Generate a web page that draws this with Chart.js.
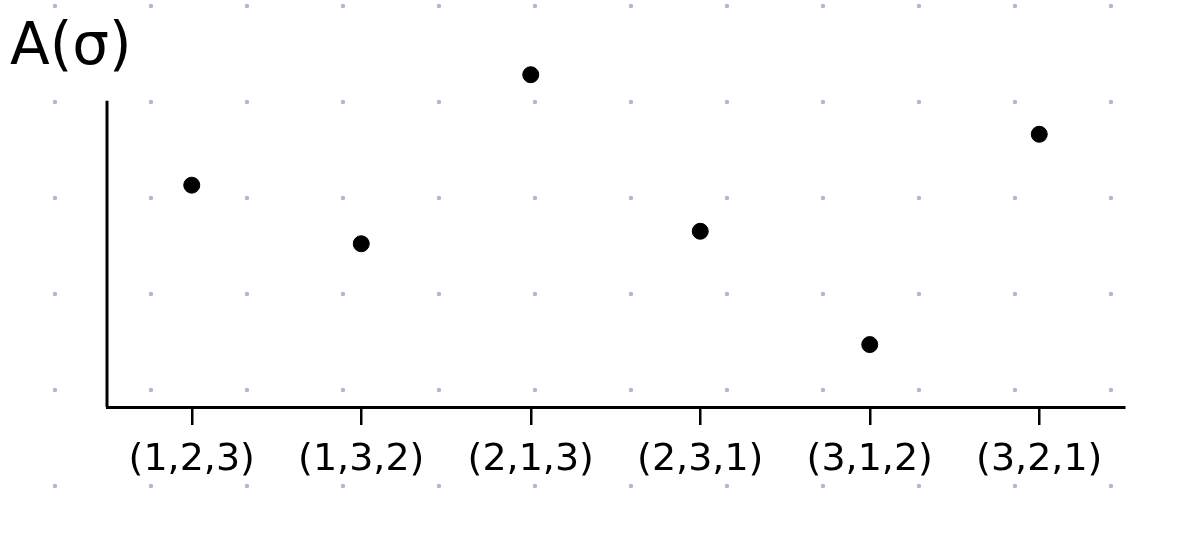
<!DOCTYPE html>
<html>
<head>
<meta charset="utf-8">
<script src="https://cdn.jsdelivr.net/npm/chart.js@4/dist/chart.umd.min.js"></script>
<style>
  html, body { margin: 0; padding: 0; background: #fff; }
  #wrap { width: 1184px; height: 539px; }
</style>
</head>
<body>
<div id="wrap"><canvas id="permChart"></canvas></div>
<script>
/* -------------------------------------------------------
   Data (heights, in grid units)
------------------------------------------------------- */
const permutations = ['(1,2,3)', '(1,3,2)', '(2,1,3)', '(2,3,1)', '(3,1,2)', '(3,2,1)'];
const aValues      = [2.31, 1.70, 3.46, 1.83, 0.65, 2.84];
const yMax         = 3.68;   // top of plotting room
const axisTop      = 3.19;   // where the drawn vertical axis stops

/* -------------------------------------------------------
   Dotted-paper background
------------------------------------------------------- */
const dotPaper = {
  id: 'dotPaper',
  beforeDraw(chart) {
    const { ctx, width, height } = chart;
    ctx.save();
    ctx.fillStyle = '#ffffff';
    ctx.fillRect(0, 0, width, height);
    ctx.fillStyle = '#aab9d6';
    for (let x = 55; x < width; x += 96) {
      for (let y = 6; y < height; y += 96) {
        ctx.beginPath();
        ctx.arc(x, y, 2.2, 0, Math.PI * 2);
        ctx.fill();
      }
    }
    ctx.restore();
  }
};

/* -------------------------------------------------------
   Vertical axis line (stops short of the chart top)
------------------------------------------------------- */
const shortYAxis = {
  id: 'shortYAxis',
  beforeDatasetsDraw(chart) {
    const { ctx, chartArea, scales } = chart;
    const yTop = scales.y.getPixelForValue(axisTop);
    ctx.save();
    ctx.strokeStyle = '#000';
    ctx.lineWidth = 3;
    ctx.beginPath();
    ctx.moveTo(chartArea.left, yTop);
    ctx.lineTo(chartArea.left, chartArea.bottom);
    ctx.stroke();
    ctx.restore();
  }
};

const ctx = document.getElementById('permChart');

new Chart(ctx, {
  type: 'scatter',
  data: {
    labels: permutations,
    datasets: [{
      label: 'A(σ)',
      data: aValues,
      backgroundColor: '#000',
      borderColor: '#000',
      pointRadius: 8,
      pointHoverRadius: 8,
      showLine: false,
    }]
  },
  options: {
    responsive: true,
    maintainAspectRatio: false,
    animation: false,
    layout: { padding: { left: 10, right: 60, top: 0, bottom: 0 } },
    plugins: {
      legend: { display: false },
      tooltip: { enabled: false },
      title: {
        display: true,
        text: 'A(σ)',
        align: 'start',
        color: '#000',
        font: { family: "'DejaVu Sans', sans-serif", size: 58, weight: 'normal', lineHeight: 1.2 },
        padding: { top: 14, bottom: -30 }
      }
    },
    scales: {
      x: {
        type: 'category',
        offset: true,
        border: { display: true, color: '#000', width: 3 },
        grid: { offset: false, drawOnChartArea: false, tickLength: 18, color: '#000', lineWidth: 2.5 },
        ticks: {
          color: '#000',
          padding: 12,
          maxRotation: 0,
          autoSkip: false,
          font: { family: "'DejaVu Sans', sans-serif", size: 38 }
        },
        afterFit: (scale) => { scale.height = 132; }
      },
      y: {
        min: 0,
        max: yMax,
        border: { display: false },
        grid: { display: false },
        ticks: { display: false },
        afterFit: (scale) => { scale.width = 97; }
      }
    }
  },
  plugins: [dotPaper, shortYAxis]
});
</script>
</body>
</html>
